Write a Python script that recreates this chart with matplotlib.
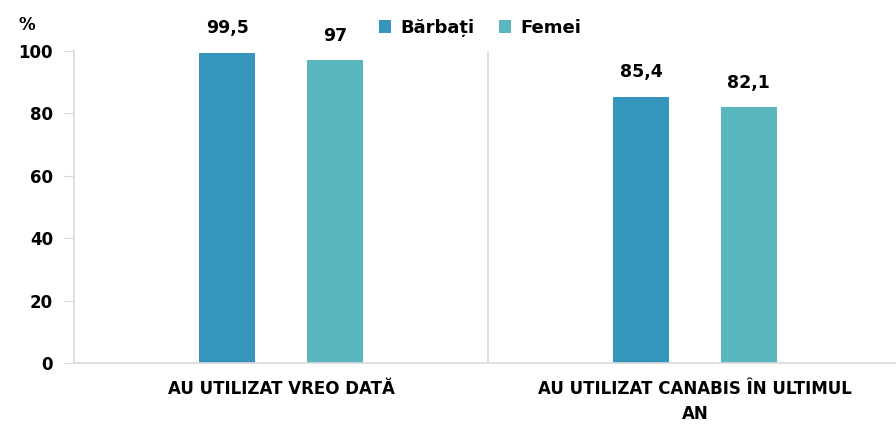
import matplotlib
matplotlib.use("Agg")
import matplotlib.pyplot as plt
import numpy as np

plt.rcParams['font.family'] = ['DejaVu Sans']

categories = ["AU UTILIZAT VREO DATĂ", "AU UTILIZAT CANABIS ÎN ULTIMUL\nAN"]
barbati = [99.5, 85.4]
femei = [97, 82.1]
labels_b = ["99,5", "85,4"]
labels_f = ["97", "82,1"]
series_names = ["Bărbați", "Femei"]
yticks = [0, 20, 40, 60, 80, 100]

c_dark = "#3595BC"
c_light = "#5AB7BF"
grid_c = "#D9D9D9"

fig = plt.figure(figsize=(8.96, 4.25), dpi=100)
ax = fig.add_axes([74 / 896, 1 - 363 / 425, (896 - 74) / 896, (363 - 51) / 425])

x = np.arange(len(categories))
w = 0.135
off = 0.13
b1 = ax.bar(x - off, barbati, w, color=c_dark, label=series_names[0])
b2 = ax.bar(x + off, femei, w, color=c_light, label=series_names[1])

for bars, labs in ((b1, labels_b), (b2, labels_f)):
    for rect, lab in zip(bars, labs):
        ax.annotate(lab, (rect.get_x() + rect.get_width() / 2, rect.get_height()),
                    xytext=(0, 11), textcoords="offset points", ha="center", va="bottom",
                    fontsize=12.5, fontweight="bold", annotation_clip=False)

ax.set_xlim(-0.5, -0.5 + 822 / 414)
ax.set_ylim(0, 100)
ax.set_yticks(yticks)
ax.set_yticklabels([str(t) for t in yticks], fontsize=12, fontweight="bold")
ax.tick_params(axis="y", length=7, color=grid_c, pad=8)
ax.set_xticks(x)
ax.set_xticklabels(categories, fontsize=12, fontweight="bold")
ax.tick_params(axis="x", length=0, pad=12)
for lab in ax.get_xticklabels():
    lab.set_linespacing(1.55)

ax.axvline(0.5, color=grid_c, lw=1.2)
for s in ["top", "right"]:
    ax.spines[s].set_visible(False)
for s in ["left", "bottom"]:
    ax.spines[s].set_color(grid_c)
    ax.spines[s].set_linewidth(1.2)

fig.text(27 / 896, 1 - 25 / 425, "%", fontsize=12, fontweight="bold", ha="center", va="center")

leg = fig.legend(loc="center", bbox_to_anchor=(480 / 896, 1 - 28 / 425), ncol=2, frameon=False,
                 prop={"weight": "bold", "size": 13}, handlelength=0.7, handleheight=0.7,
                 handletextpad=0.5, columnspacing=1.33)

fig.savefig("out.png", dpi=100)
